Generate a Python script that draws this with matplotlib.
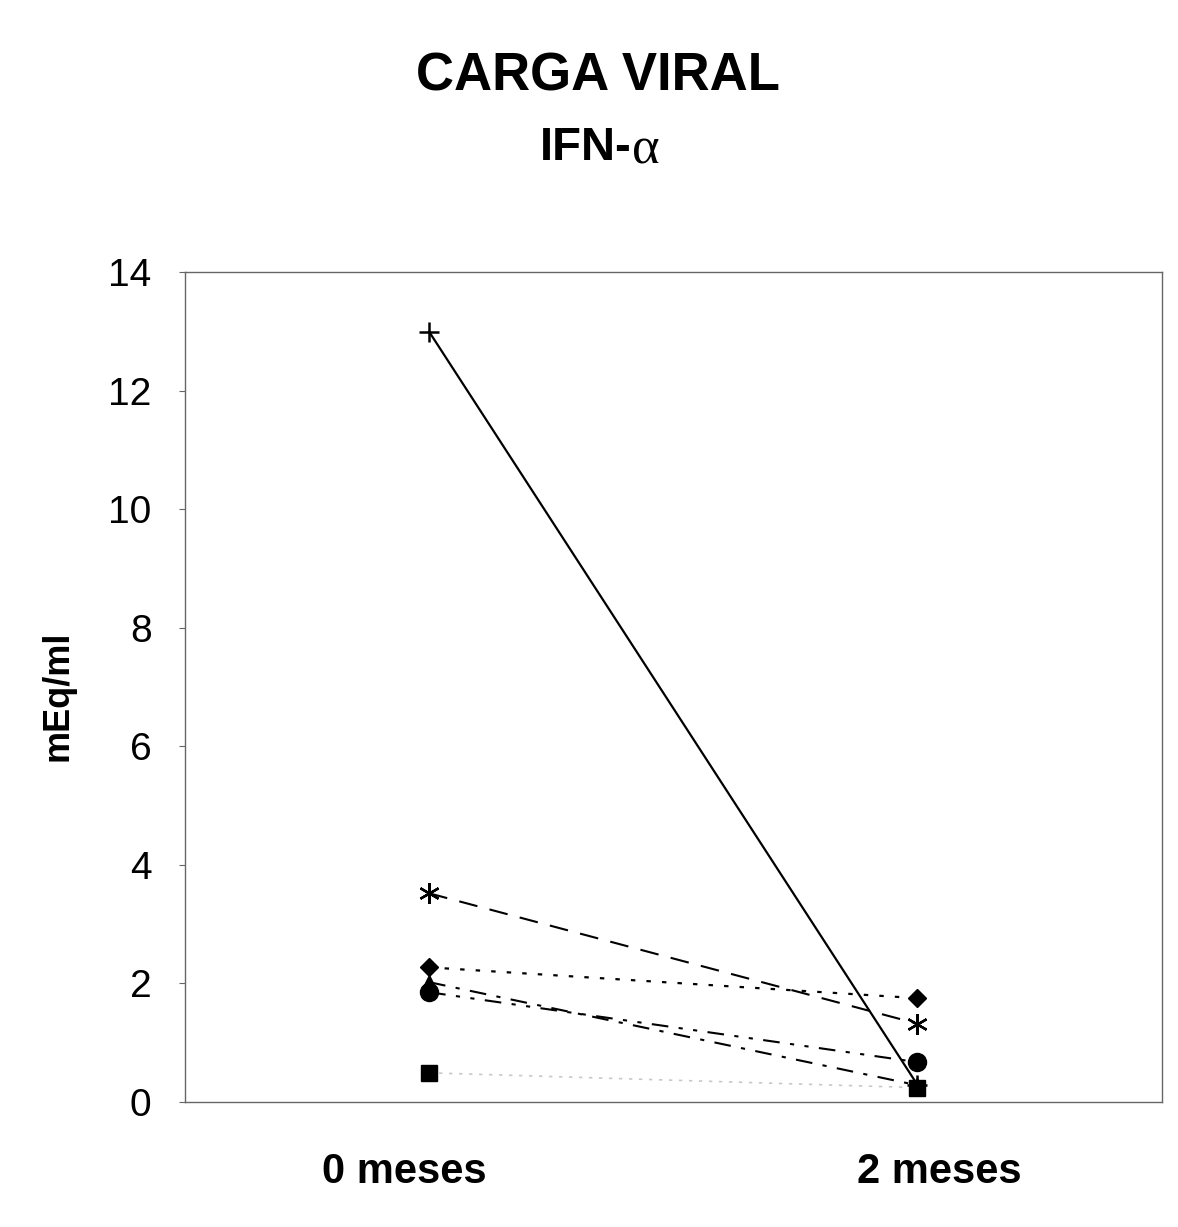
import matplotlib.pyplot as plt

# Datos de carga viral (mEq/ml) a 0 y 2 meses
meses = ["0 meses", "2 meses"]
paciente_cruz = [13.0, 0.29]
paciente_asterisco = [3.52, 1.32]
paciente_rombo = [2.27, 1.75]
paciente_triangulo = [2.02, 0.28]
paciente_circulo = [1.85, 0.67]
paciente_cuadrado = [0.49, 0.24]

plt.rcParams['font.family'] = ['Liberation Sans', 'DejaVu Sans']

fig = plt.figure(figsize=(11.78, 12.27), dpi=100)
ax = fig.add_axes([0.157, 0.102, 0.829, 0.676])

x = range(len(meses))
ax.plot(x, paciente_cuadrado, color="#c8c8c8", linestyle=(0, (2, 4)), linewidth=1.2,
        marker="s", markersize=12, markerfacecolor="black", markeredgecolor="black")
ax.plot(x, paciente_triangulo, color="black", linestyle=(0, (8, 5, 2, 5)), linewidth=1.5,
        marker="^", markersize=10, markerfacecolor="black", markeredgecolor="black")
ax.plot(x, paciente_circulo, color="black", linestyle=(0, (8, 5, 2, 5, 2, 5)), linewidth=1.5,
        marker="o", markersize=13, markerfacecolor="black", markeredgecolor="black")
ax.plot(x, paciente_rombo, color="black", linestyle=(0, (2, 5)), linewidth=1.6,
        marker="D", markersize=9, markerfacecolor="black", markeredgecolor="black")
ax.plot(x, paciente_asterisco, color="black", linestyle=(0, (9, 6)), linewidth=1.5,
        marker=(6, 2, 0), markersize=15, markeredgewidth=1.7)
ax.plot(x, paciente_cruz, color="black", linestyle="-", linewidth=1.6,
        marker="+", markersize=14, markeredgewidth=1.8)

ax.set_xlim(-0.5, 1.5)
ax.set_ylim(0, 14)
ax.set_yticks(range(0, 15, 2))
ax.set_xticks([])
ax.tick_params(axis="y", labelsize=28, length=4, width=0.8, color="#666666", pad=20)
for s in ax.spines.values():
    s.set_color("#666666")
    s.set_linewidth(1.0)

ax.set_ylabel("mEq/ml", fontsize=26, fontweight="bold")
ax.yaxis.set_label_coords(-0.112, 0.49)

# las etiquetas del eje x están un poco desplazadas hacia fuera en el original
desplaz = [-0.05, 0.045]
for i, m in enumerate(meses):
    ax.text(i + desplaz[i], -1.18, m, ha="center", va="center", fontsize=30, fontweight="bold")

fig.text(0.508, 0.938, "CARGA VIRAL", ha="center", va="center", fontsize=38, fontweight="bold")
fig.text(0.5365, 0.879, "IFN-", ha="right", va="center", fontsize=34, fontweight="bold")
fig.text(0.5365, 0.877, "α", ha="left", va="center", fontsize=38,
         family=["Liberation Serif", "DejaVu Serif"])

fig.savefig("out.png", dpi=100)
